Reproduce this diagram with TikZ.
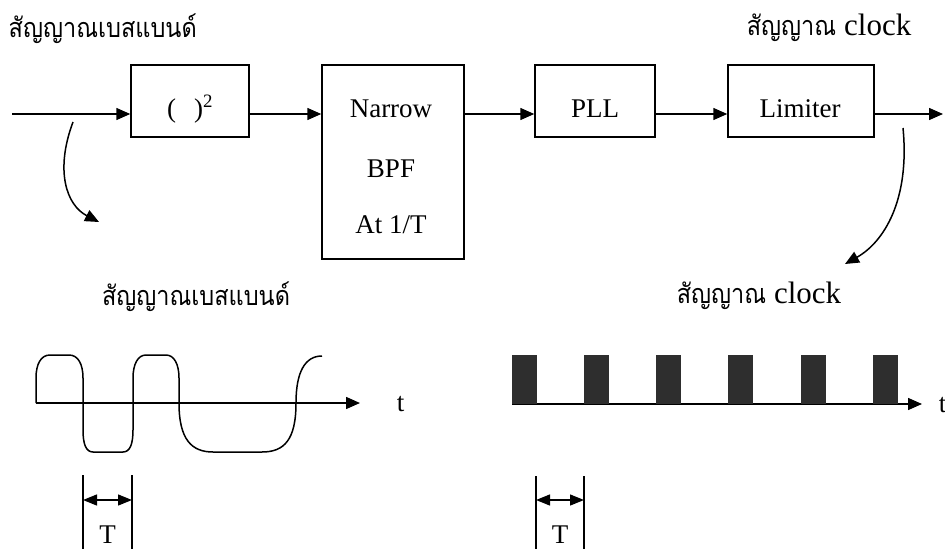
\documentclass[tikz,border=0pt]{standalone}
\usepackage{fontspec}
\setmainfont{Liberation Serif}
\newfontfamily\thaifont[Script=Thai,FakeStretch=0.87]{Loma}
\newcommand\clkfont{\rmfamily\fontsize{31}{34}\selectfont}
\usetikzlibrary{arrows.meta}
\begin{document}
\begin{tikzpicture}[x=1pt,y=-1pt,
  line width=1.5pt,
  tip/.style={-{Triangle[length=14pt,width=12pt]}},
  dimtip/.style={{Triangle[length=14pt,width=11pt]}-{Triangle[length=14pt,width=11pt]}},
  blk/.style={draw,line width=1.5pt,inner sep=0pt},
  thlbl/.style={inner sep=0pt,font=\fontsize{27}{30}\selectfont\thaifont},
  lat/.style={inner sep=0pt,font=\fontsize{27}{32}\selectfont}]
\useasboundingbox (0,0) rectangle (945,549);
% blocks
\node[blk,minimum width=118pt,minimum height=72pt] (sq) at (190,101) {};
\node[blk,minimum width=142pt,minimum height=194pt] (bpf) at (393,162) {};
\node[blk,minimum width=120pt,minimum height=72pt] (pll) at (595,101) {};
\node[blk,minimum width=146pt,minimum height=72pt] (lim) at (801,101) {};
\node[lat,anchor=base] (sqt) at (190,117) {(\ \ \,)\textsuperscript{2}};
\node[lat,anchor=base] (bpf1) at (391,117) {Narrow};
\node[lat,anchor=base] (bpf2) at (391,177) {BPF};
\node[lat,anchor=base] (bpf3) at (391,233) {At 1/T};
\node[lat,anchor=base] (pllt) at (595,117) {PLL};
\node[lat,anchor=base] (limt) at (800,117) {Limiter};
\coordinate (in) at (12,114);
\coordinate (out) at (943,114);
\draw[tip] (in) -- (sq.west |- in);
\draw[tip] (sq.east |- in) -- (bpf.west |- in);
\draw[tip] (bpf.east |- in) -- (pll.west |- in);
\draw[tip] (pll.east |- in) -- (lim.west |- in);
\draw[tip] (lim.east |- in) -- (out);
% labels
\node[thlbl,anchor=base west] (l1) at (8,37) {สัญญาณเบสแบนด์};
\node[thlbl,anchor=base east] (l2) at (912,35) {สัญญาณ {\clkfont clock}};
\node[thlbl,anchor=base] (l3) at (196,305) {สัญญาณเบสแบนด์};
\node[thlbl,anchor=base] (l4) at (759,303) {สัญญาณ {\clkfont clock}};
% curved arrows
\coordinate (c1s) at (73,122);
\coordinate (c1e) at (99,222);
\coordinate (c2s) at (903,128);
\coordinate (c2e) at (845,264);
\draw[tip] (c1s) .. controls (55,170) and (66,205) .. (c1e);
\draw[tip] (c2s) .. controls (910,200) and (884,242) .. (c2e);
% baseband waveform
\coordinate (a1) at (36,403);
\coordinate (a2) at (360,403);
\draw[tip] (a1) -- (a2);
\node[lat,anchor=base west] (t1) at (396,411) {t};
\draw (36,403) -- (36,378) .. controls (36,364) and (41,355) .. (50,355) -- (69,355)
      .. controls (78,355) and (83,364) .. (83,378) -- (83,430)
      .. controls (83,444) and (86,452) .. (93,452) -- (123,452)
      .. controls (130,452) and (133,444) .. (133,430) -- (133,378)
      .. controls (133,364) and (138,355) .. (146,355) -- (166,355)
      .. controls (174,355) and (179,364) .. (179,378) -- (179,403)
      .. controls (179,440) and (192,452) .. (213,452) -- (262,452)
      .. controls (284,452) and (296,440) .. (296,403)
      .. controls (296,372) and (305,356) .. (322,356);
% clock waveform
\coordinate (b1) at (512,404);
\coordinate (b2) at (922,404);
\draw[tip] (b1) -- (b2);
\node[lat,anchor=base west] (t2) at (938,412) {t};
\foreach \xx in {512,584,656,728,801,873}
  \fill[black!82] (\xx,355) rectangle ++(25,49);
% period markers
\draw (83,475) -- (83,549) (132,475) -- (132,549);
\draw[dimtip,line width=1.3pt] (83,500) -- (132,500);
\node[lat,anchor=base] (T1) at (107.5,543) {T};
\draw (536,476) -- (536,549) (584,476) -- (584,549);
\draw[dimtip,line width=1.3pt] (536,500) -- (584,500);
\node[lat,anchor=base] (T2) at (560,543) {T};
\end{tikzpicture}
\end{document}
